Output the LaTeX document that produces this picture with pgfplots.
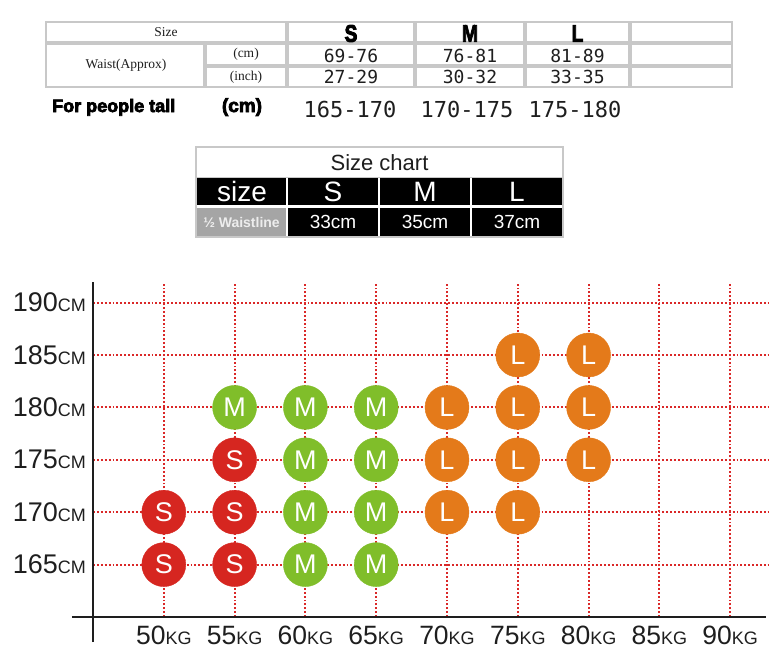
\documentclass[border=0pt]{standalone}
\usepackage{fontspec}
\usepackage{pgfplots}
\pgfplotsset{compat=1.18}
\setmainfont{Liberation Sans}
\newfontfamily\serif{Liberation Serif}
\newfontfamily\mono{DejaVu Sans Mono}
\newfontfamily\heavy[FakeBold=4]{Liberation Sans}
\definecolor{cred}{RGB}{214,38,32}
\definecolor{cgreen}{RGB}{128,190,42}
\definecolor{corange}{RGB}{228,122,26}
\definecolor{gridred}{RGB}{218,40,40}
\definecolor{txt}{RGB}{30,30,30}
\definecolor{cellline}{RGB}{200,200,200}
\definecolor{waistgrey}{RGB}{165,165,165}
\newcommand{\U}[1]{{\fontsize{18}{18}\selectfont #1}}
\begin{document}
\begin{tikzpicture}[x=1pt,y=1pt]
\useasboundingbox (0,-657) rectangle (780,0);
% ---------- top table ----------
\tikzset{cell/.style={draw=cellline, line width=1.3pt}}
\newcommand\cell[4]{\draw[cell] ({#1+1},{-#2-1}) rectangle ({#3-1},{-#4+1});}
\cell{45}{21}{287}{43}
\cell{45}{43}{205}{88}
\cell{205}{43}{287}{66}
\cell{205}{66}{287}{88}
\foreach \a/\b in {287/415,415/525,525/630,630/733}{
  \cell{\a}{21}{\b}{43}
  \cell{\a}{43}{\b}{66}
  \cell{\a}{66}{\b}{88}
}
\node[font=\serif\fontsize{13.5}{14}\selectfont, text=txt] at (166,-32) {Size};
\node[font=\serif\fontsize{13.5}{14}\selectfont, text=txt] at (126,-65.5) {Waist(Approx)};
\node[font=\serif\fontsize{13.5}{14}\selectfont, text=txt] at (246,-54.5) {(cm)};
\node[font=\serif\fontsize{13.5}{14}\selectfont, text=txt] at (246,-77) {(inch)};
\tikzset{sml/.style={font=\heavy\bfseries\fontsize{24}{24}\selectfont, xscale=0.8, inner sep=0pt, text=black}}
\node[sml] at (351,-33.5) {S};
\node[sml] at (470,-33.5) {M};
\node[sml] at (577.5,-33.5) {L};
\tikzset{val/.style={font=\mono\fontsize{18}{18}\selectfont, text=txt}}
\node[val] at (351,-56) {69-76};
\node[val] at (470,-56) {76-81};
\node[val] at (577.5,-56) {81-89};
\node[val] at (351,-77) {27-29};
\node[val] at (470,-77) {30-32};
\node[val] at (577.5,-77) {33-35};
\node[anchor=base west, inner sep=0pt, font=\heavy\bfseries\fontsize{18}{18}\selectfont, text=black] at (52,-112) {For people tall};
\node[anchor=base, inner sep=0pt, font=\heavy\bfseries\fontsize{19}{18}\selectfont, text=black] at (242,-112) {(cm)};
\tikzset{tall/.style={anchor=base, inner sep=0pt, font=\mono\fontsize{22}{22}\selectfont, text=txt}}
\node[tall] at (350,-117) {165-170};
\node[tall] at (467,-117) {170-175};
\node[tall] at (575,-117) {175-180};
% ---------- size chart ----------
\draw[draw=cellline, line width=1.5pt, fill=white] (196,-147) rectangle (563,-237);
\draw[draw=cellline, line width=1pt] (196,-177) -- (563,-177);
\node[font=\fontsize{22}{22}\selectfont, text=txt] at (379.5,-163) {Size chart};
\foreach \a/\b in {196/287,287/379,379/471,471/563}{
  \fill[black] ({\a+1.2},-178) rectangle ({\b-1.2},-205);
}
\fill[waistgrey] (197,-207.5) rectangle (285.8,-236);
\foreach \a/\b in {287/379,379/471,471/563}{
  \fill[black] ({\a+1.2},-207.5) rectangle ({\b-1.2},-236);
}
\tikzset{wh/.style={font=\fontsize{28}{28}\selectfont, text=white}}
\node[wh] at (242,-191.5) {size};
\node[wh] at (333,-191.5) {S};
\node[wh] at (425,-191.5) {M};
\node[wh] at (517,-191.5) {L};
\node[font=\bfseries\fontsize{14}{14}\selectfont, text=white!93!black] at (241.5,-222) {½ Waistline};
\tikzset{whs/.style={font=\fontsize{19}{19}\selectfont, text=white}}
\node[whs] at (333,-222) {33cm};
\node[whs] at (425,-222) {35cm};
\node[whs] at (517,-222) {37cm};
% ---------- plot ----------
\begin{axis}[
  at={(93pt,-617pt)}, anchor=south west,
  scale only axis, width=675pt, height=334pt,
  xmin=45, xmax=92.67, ymin=160, ymax=191.87,
  axis lines*=left, axis line style={draw=none},
  xtick={50,55,...,90}, ytick={165,170,...,190},
  xticklabels={50\U{KG},55\U{KG},60\U{KG},65\U{KG},70\U{KG},75\U{KG},80\U{KG},85\U{KG},90\U{KG}},
  yticklabels={165\U{CM},170\U{CM},175\U{CM},180\U{CM},185\U{CM},190\U{CM}},
  major tick length=0pt,
  grid=major,
  major grid style={draw=gridred, line width=1.9pt, dash pattern=on 1.9pt off 2.0pt},
  xticklabel style={anchor=north, inner sep=0pt, yshift=-9pt, font=\fontsize{26.5}{26}\selectfont, text=txt},
  yticklabel style={anchor=east, inner sep=0pt, xshift=-7pt, font=\fontsize{27}{26}\selectfont, text=txt},
  clip=false,
]
\addplot[color=cred, only marks, mark=*, mark size=22pt, mark options={draw=cred, fill=cred},
  nodes near coords={S},
  every node near coord/.append style={anchor=center, text=white, font=\fontsize{27}{26}\selectfont}]
  coordinates {(50,170)(50,165)(55,175)(55,170)(55,165)};
\addplot[color=cgreen, only marks, mark=*, mark size=22pt, mark options={draw=cgreen, fill=cgreen},
  nodes near coords={M},
  every node near coord/.append style={anchor=center, text=white, font=\fontsize{27}{26}\selectfont}]
  coordinates {(55,180)(60,180)(60,175)(60,170)(60,165)(65,180)(65,175)(65,170)(65,165)};
\addplot[color=corange, only marks, mark=*, mark size=22pt, mark options={draw=corange, fill=corange},
  nodes near coords={L},
  every node near coord/.append style={anchor=center, text=white, font=\fontsize{27}{26}\selectfont}]
  coordinates {(70,180)(70,175)(70,170)(75,185)(75,180)(75,175)(75,170)(80,185)(80,180)(80,175)};
\draw[line width=2pt, txt] (axis cs:45,157.6) -- (axis cs:45,192);
\draw[line width=2pt, txt] (axis cs:43.5,160) -- (axis cs:92.5,160);
\end{axis}
\end{tikzpicture}
\end{document}
